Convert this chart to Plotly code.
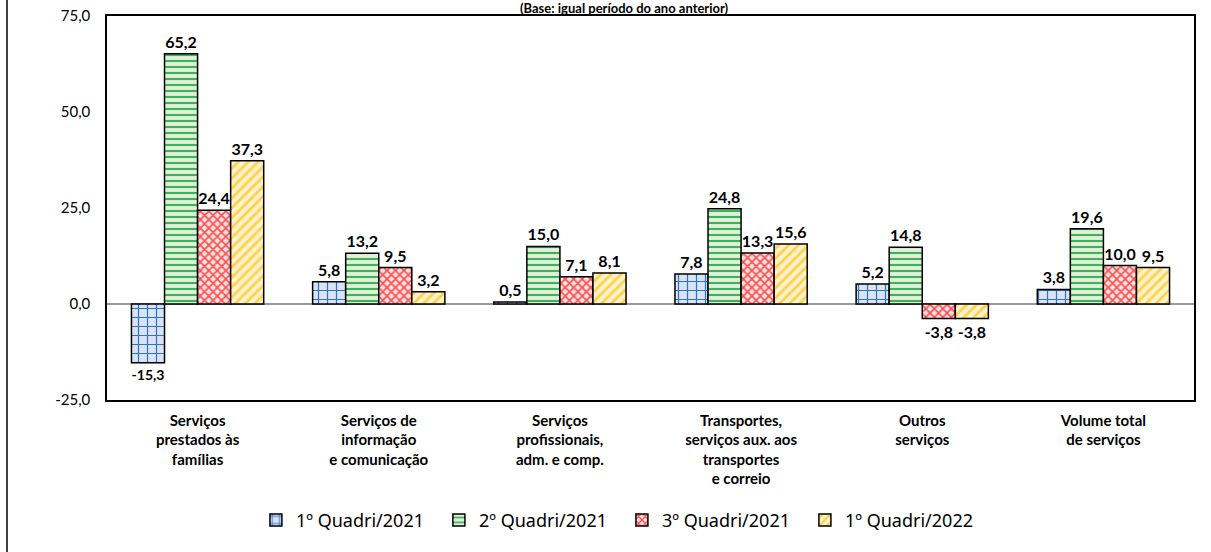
import plotly.graph_objects as go

categorias = [
    "Serviços<br>prestados às<br>famílias",
    "Serviços de<br>informação<br>e comunicação",
    "Serviços<br>profissionais,<br>adm. e comp.",
    "Transportes,<br>serviços aux. aos<br>transportes<br>e correio",
    "Outros<br>serviços",
    "Volume total<br>de serviços",
]
series = ["1º Quadri/2021", "2º Quadri/2021", "3º Quadri/2021", "1º Quadri/2022"]
q1_2021 = [-15.3, 5.8, 0.5, 7.8, 5.2, 3.8]
q2_2021 = [65.2, 13.2, 15.0, 24.8, 14.8, 19.6]
q3_2021 = [24.4, 9.5, 7.1, 13.3, -3.8, 10.0]
q1_2022 = [37.3, 3.2, 8.1, 15.6, -3.8, 9.5]
y_ticks = [-25, 0, 25, 50, 75]

valores = [q1_2021, q2_2021, q3_2021, q1_2022]
estilos = [
    ("+", "#dae3f3", "#2e75c8", 9, 0.25),
    ("-", "#e2f0d9", "#3cb35a", 6, 0.35),
    ("x", "#fde2e2", "#ff4a4a", 6, 0.45),
    ("/", "#fff2cc", "#ffd24d", 7, 0.4),
]

def fmt(v):
    return f"{v:.1f}".replace(".", ",")

fig = go.Figure()
for nome, vals, (shape, bg, fg, sz, sol) in zip(series, valores, estilos):
    fig.add_trace(go.Bar(
        x=categorias, y=vals, name=nome,
        text=[fmt(v) for v in vals], textposition="outside",
        textfont=dict(family="Lato", size=16, color="black", weight="bold"),
        cliponaxis=False,
        marker=dict(color=bg, line=dict(color="black", width=1.5),
                    pattern=dict(shape=shape, bgcolor=bg, fgcolor=fg,
                                 size=sz, solidity=sol, fillmode="replace")),
    ))

fig.update_layout(
    width=1211, height=552,
    margin=dict(l=107, r=17, t=16, b=152, autoexpand=False),
    barmode="group", bargap=0.27, bargroupgap=0,
    plot_bgcolor="white", paper_bgcolor="white",
    font=dict(family="Lato", color="black"),
    showlegend=True,
    legend=dict(orientation="h", x=0.137, xanchor="left", y=-0.265, yanchor="top",
                font=dict(family="Noto Sans", size=18), itemwidth=30,
                entrywidth=138, traceorder="normal"),
)
fig.update_xaxes(
    showline=True, linecolor="black", linewidth=1.5, mirror=True,
    tickfont=dict(family="Lato", size=15, weight="bold"),
    ticks="outside", ticklen=6, tickcolor="white", automargin=False,
)
fig.update_yaxes(
    range=[-25, 75], tickvals=y_ticks, ticktext=[fmt(t) for t in y_ticks],
    showgrid=False, zeroline=True, zerolinecolor="#9a9a9a", zerolinewidth=1.5,
    showline=True, linecolor="black", linewidth=1.5, mirror=True,
    tickfont=dict(family="Lato", size=15),
    ticks="outside", ticklen=12, tickcolor="white", automargin=False,
)
# titulo (na referencia aparece quase todo cortado no topo)
fig.add_annotation(
    text="<b>(Base: igual período do ano anterior)</b>",
    xref="paper", yref="paper", x=0.476, y=1, yanchor="middle", yshift=8,
    showarrow=False, font=dict(family="Lato", size=13),
)
fig.add_shape(type="line", xref="paper", yref="paper",
              x0=-0.092, x1=-0.092, y0=-0.4, y1=1.05,
              line=dict(color="black", width=1.5))

fig.write_html("out.html", config={"displayModeBar": False},
               post_script="document.body.style.margin='0px';")
